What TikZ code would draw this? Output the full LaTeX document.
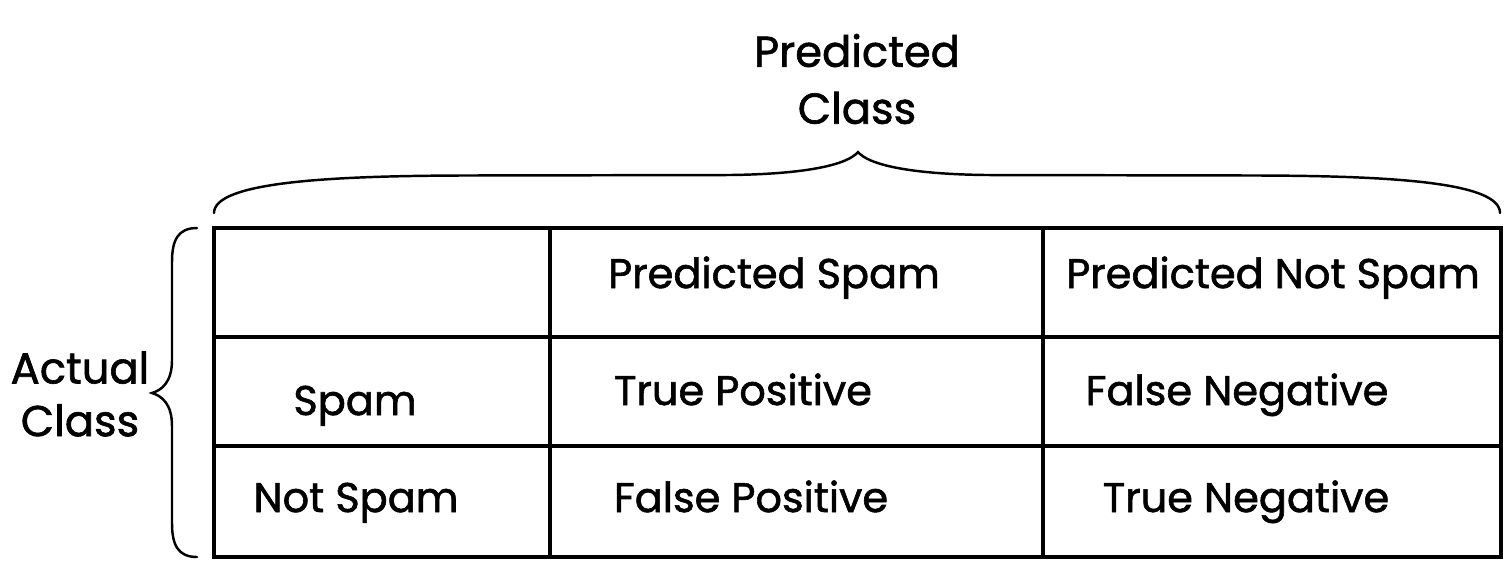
\documentclass[tikz,border=0pt]{standalone}
\usepackage{fontspec}
\setmainfont[FakeBold=1.4]{Poppins}
\tikzset{
  grid line/.style={line width=0.9pt},
  brace line/.style={line width=0.7pt, line cap=round},
  cell/.style={font=\fontsize{11.8}{16}\selectfont, inner sep=0pt, anchor=base},
  head/.style={align=center, inner sep=0pt}
}
\begin{document}
\begin{tikzpicture}
      \useasboundingbox (0,0) rectangle (15.07,-5.65);

      % corners of the table
      \coordinate (NW) at (2.14,-2.28);
      \coordinate (SE) at (15.01,-5.57);

      \draw [grid line] (NW) rectangle (SE);

      % column and row lines
      \draw [grid line] (5.50,-2.28) -- (5.50,-5.57)
                        (10.43,-2.28) -- (10.43,-5.57)
                        (2.14,-3.37) -- (15.01,-3.37)
                        (2.14,-4.46) -- (15.01,-4.46);

      % top brace
      \draw [brace line] (2.14,-2.13) .. controls (2.14,-1.82) and (3.3,-1.76) .. (4.6,-1.755)
            -- (7.3,-1.75) .. controls (8.1,-1.74) and (8.48,-1.64) .. (8.58,-1.52)
            .. controls (8.68,-1.64) and (9.06,-1.74) .. (9.86,-1.75)
            -- (12.6,-1.755) .. controls (13.9,-1.76) and (15.0,-1.82) .. (15.0,-2.13);

      % left brace
      \draw [brace line] (1.97,-2.28) .. controls (1.78,-2.28) and (1.72,-2.40) .. (1.72,-2.62)
            -- (1.72,-3.60) .. controls (1.72,-3.82) and (1.62,-3.90) .. (1.52,-3.93)
            .. controls (1.62,-3.96) and (1.72,-4.04) .. (1.72,-4.26)
            -- (1.72,-5.23) .. controls (1.72,-5.45) and (1.78,-5.57) .. (1.97,-5.57);

      % axis titles
      \node (PC) [head, font=\fontsize{12.3}{16.2}\selectfont] at (8.57,-0.79) {Predicted\\Class};
      \node (AC) [head, font=\fontsize{12.3}{15}\selectfont]   at (0.80,-3.94) {Actual\\Class};

      % column heads
      \node (PS)  [cell] at (7.74,-2.88)  {Predicted Spam};
      \node (PNS) [cell] at (12.73,-2.88) {Predicted Not Spam};

      % row heads
      \node (S)  [cell] at (3.55,-4.15) {Spam};
      \node (NS) [cell] at (3.56,-5.12) {Not Spam};

      % cells
      \node (TP) [cell] at (7.43,-4.05)  {True Positive};
      \node (FN) [cell] at (12.37,-4.05) {False Negative};
      \node (FP) [cell] at (7.51,-5.12)  {False Positive};
      \node (TN) [cell] at (12.46,-5.12) {True Negative};
\end{tikzpicture}
\end{document}
